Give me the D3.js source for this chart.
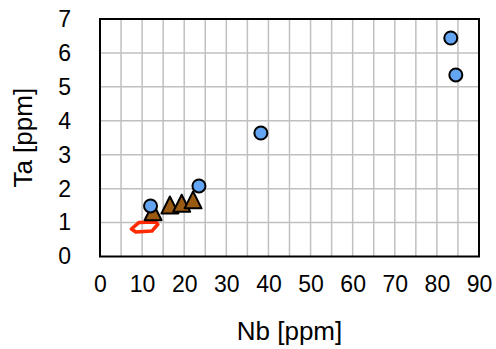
<!DOCTYPE html>
<html><head><meta charset="utf-8">
<script src="https://cdn.jsdelivr.net/npm/d3@7"></script>
<style>body{margin:0;background:#fff}svg{display:block}</style>
</head><body>
<script>
const xTicks = [0,10,20,30,40,50,60,70,80,90];
const yTicks = [0,1,2,3,4,5,6,7];
const xTitle = "Nb [ppm]";
const yTitle = "Ta [ppm]";
// blue circles
const circleNb = [12.0, 23.5, 38.2, 83.3, 84.5];
const circleTa = [1.49, 2.08, 3.64, 6.44, 5.35];
// brown triangles
const triNb = [12.6, 16.6, 19.4, 22.1];
const triTa = [1.32, 1.52, 1.57, 1.67];
// red field outline
const fieldNb = [7.44, 9.22, 13.27, 13.74, 12.32, 8.51];
const fieldTa = [0.81, 1.00, 1.02, 0.95, 0.75, 0.72];

const W = 496, H = 349;
const m = {left:100, right:17, top:19, bottom:92.5};
const svg = d3.select("body").append("svg").attr("width",W).attr("height",H);
const x = d3.scaleLinear().domain([0,90]).range([m.left, W-m.right]);
const y = d3.scaleLinear().domain([0,7]).range([H-m.bottom, m.top]);
const font = "'Liberation Sans', Arial, Helvetica, sans-serif";

// grid
const g = svg.append("g");
g.selectAll("line.v").data(d3.range(5,90,5)).join("line")
  .attr("x1",d=>x(d)).attr("x2",d=>x(d)).attr("y1",y(0)).attr("y2",y(7))
  .attr("stroke","#c0c0c0").attr("stroke-width",1.5);
g.selectAll("line.h").data(d3.range(1,7)).join("line")
  .attr("y1",d=>y(d)).attr("y2",d=>y(d)).attr("x1",x(0)).attr("x2",x(90))
  .attr("stroke","#c0c0c0").attr("stroke-width",1.5);

// axes (labels only)
const xAxis = d3.axisBottom(x).tickValues(xTicks).tickSize(0).tickPadding(19).tickFormat(d3.format("d"));
const ax = svg.append("g").attr("transform",`translate(0,${y(0)})`).call(xAxis);
ax.select(".domain").remove();
ax.selectAll("text").attr("font-family",font).attr("font-size",23).attr("fill","#000");
const yAxis = d3.axisLeft(y).tickValues(yTicks).tickSize(0).tickPadding(29).tickFormat(d3.format("d"));
const ay = svg.append("g").attr("transform",`translate(${x(0)},0)`).call(yAxis);
ay.select(".domain").remove();
ay.selectAll("text").attr("font-family",font).attr("font-size",23).attr("fill","#000");

// border
svg.append("rect").attr("x",x(0)).attr("y",y(7)).attr("width",x(90)-x(0)).attr("height",y(0)-y(7))
  .attr("fill","none").attr("stroke","#000").attr("stroke-width",2);

// titles
svg.append("text").attr("x",(x(0)+x(90))/2).attr("y",340).attr("text-anchor","middle")
  .attr("font-family",font).attr("font-size",26).text(xTitle);
svg.append("text").attr("transform",`translate(32,${(y(0)+y(7))/2}) rotate(-90)`).attr("text-anchor","middle")
  .attr("font-family",font).attr("font-size",26).text(yTitle);

// field polygon
const field = fieldNb.map((v,i)=>[x(v), y(fieldTa[i])]);
svg.append("path").attr("d", d3.line()(field)+"Z").attr("fill","none")
  .attr("stroke","#ff2a00").attr("stroke-width",3.5).attr("stroke-linejoin","round");

// triangles (centered on bounding box)
const tw = 17, th = 17;
const triPath = `M0,${-th/2}L${tw/2},${th/2}L${-tw/2},${th/2}Z`;
svg.selectAll("path.tri").data(triNb.map((v,i)=>[v,triTa[i]])).join("path")
  .attr("class","tri").attr("d",triPath)
  .attr("transform",d=>`translate(${x(d[0])},${y(d[1])})`)
  .attr("fill","#9a5a12").attr("stroke","#000").attr("stroke-width",2).attr("stroke-linejoin","round");

// circles
svg.selectAll("circle.pt").data(circleNb.map((v,i)=>[v,circleTa[i]])).join("circle")
  .attr("class","pt").attr("cx",d=>x(d[0])).attr("cy",d=>y(d[1])).attr("r",6.5)
  .attr("fill","#63a5f2").attr("stroke","#000").attr("stroke-width",2);
</script>
</body></html>
